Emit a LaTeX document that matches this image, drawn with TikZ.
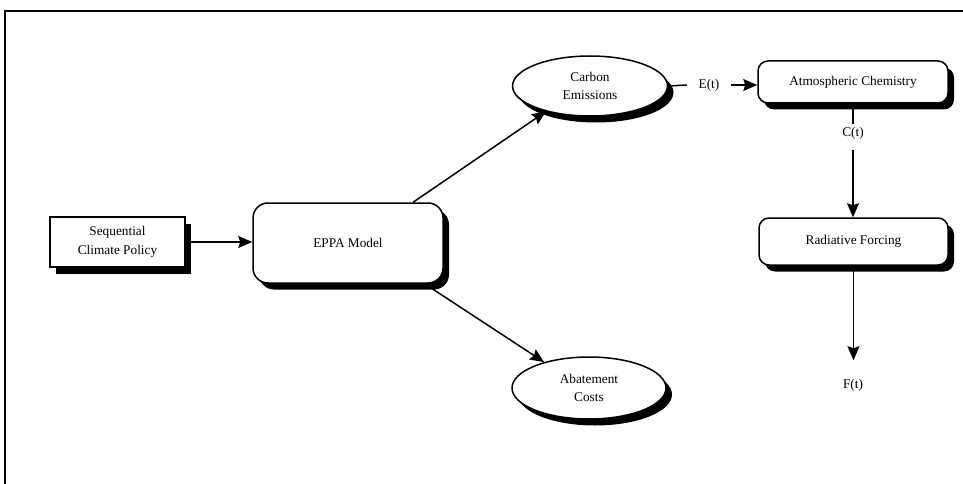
\documentclass[tikz,border=0pt]{standalone}
\usepackage{fontspec}
\setmainfont{Liberation Serif}
\usetikzlibrary{shadows,arrows.meta,calc,shapes.geometric}
\begin{document}
\begin{tikzpicture}[x=1pt,y=-1pt,
  line width=1.5pt,
  font=\fontsize{13.3}{18.5}\selectfont,
  hardshadow/.style={drop shadow={shadow xshift=6pt,shadow yshift=-6.5pt,fill=black,opacity=1}},
  sqbox/.style={draw,fill=white,hardshadow,align=center,inner sep=0pt},
  rbox/.style={draw,fill=white,hardshadow,rounded corners=12pt,align=center,inner sep=0pt},
  oval/.style={draw,ellipse,fill=white,align=center,inner sep=0pt,
    drop shadow={shadow xshift=6pt,shadow yshift=-6.5pt,fill=black,opacity=1}},
  lbl/.style={inner sep=0pt},
  flow/.style={-{Stealth[length=14pt,width=12pt,inset=2pt]}},
]
\useasboundingbox (0,0) rectangle (963,484);
% open frame: top and left rules only
\draw[line width=1.5pt] (5,484) -- (5,11) -- (963,11);

% boxes and ovals
\node[sqbox,minimum width=135pt,minimum height=50pt] (seq) at (117.5,242) {Sequential\\Climate Policy};
\node[rbox,minimum width=190pt,minimum height=80pt,rounded corners=15pt] (eppa) at (348,243) {EPPA Model};
\node[oval,minimum width=155pt,minimum height=60pt] (carbon) at (590,86) {Carbon\\Emissions};
\node[oval,minimum width=154pt,minimum height=62pt] (abate) at (589,388) {Abatement\\Costs};
\node[rbox,minimum width=190pt,minimum height=42pt,rounded corners=10pt] (atmos) at (853,82) {Atmospheric Chemistry};
\node[rbox,minimum width=189pt,minimum height=47pt,rounded corners=10pt] (rad) at (853.5,241.5) {Radiative Forcing};

% signal labels
\node[lbl,inner xsep=11pt] (et) at (709,85) {E(t)};
\node[lbl,inner ysep=2pt] (ct) at (853,133) {C(t)};
\node[lbl,inner ysep=18pt] (ft) at (853,385) {F(t)};

% connectors
\draw[flow] (seq.east) -- (seq.east -| eppa.west);
\draw[flow] ($(eppa.north west)!0.84!(eppa.north east)$) -- (carbon.210);
\draw[flow] ($(eppa.south west)!0.9!(eppa.south east)$) -- (abate.150);
\draw (carbon.east) -- (et.west);
\draw[flow] (et.east) -- (et.east -| atmos.west);
\draw (atmos.south) -- (ct.north);
\draw[flow] ($(ct.south)+(0,8)$) -- (ct.south |- rad.north);
\draw[flow] (rad.south) -- (rad.south |- ft.north);
\end{tikzpicture}
\end{document}
